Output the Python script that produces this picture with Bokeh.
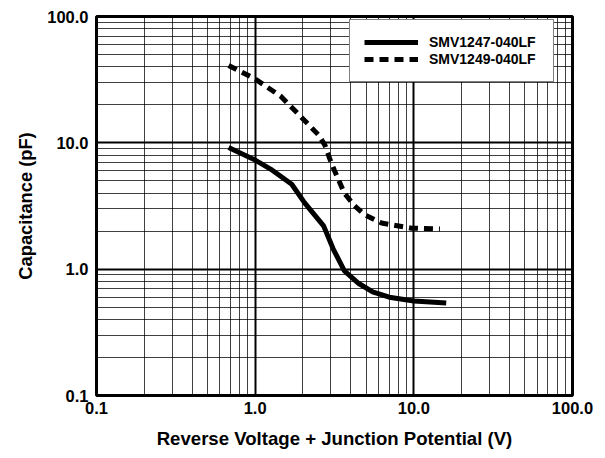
from bokeh.plotting import figure
from bokeh.models import Range1d, FixedTicker, Legend, LegendItem
from bokeh.embed import file_html
from bokeh.resources import INLINE

# ---- data ----
v_1247 = [0.68, 1.0, 1.25, 1.7, 2.05, 2.7, 3.1, 3.65, 4.5, 5.5, 7.0, 10.0, 16.0]
c_1247 = [9.2, 7.3, 6.2, 4.7, 3.35, 2.2, 1.45, 0.97, 0.77, 0.66, 0.6, 0.56, 0.54]

v_1249 = [0.68, 1.0, 1.46, 1.95, 2.5, 2.75, 2.95, 3.15, 3.65, 4.2, 4.9, 6.25, 9.7, 14.6]
c_1249 = [41.0, 32.0, 23.2, 16.0, 11.6, 9.6, 7.5, 6.1, 4.0, 3.2, 2.7, 2.32, 2.11, 2.08]

series_names = ["SMV1247-040LF", "SMV1249-040LF"]

x_ticks = [0.1, 1.0, 10.0, 100.0]
x_tick_labels = ["0.1", "1.0", "10.0", "100.0"]
y_ticks = [0.1, 1.0, 10.0, 100.0]
y_tick_labels = ["0.1", "1.0", "10.0", "100.0"]
minor_ticks = [m * d for d in (0.1, 1.0, 10.0) for m in range(2, 10)]

x_title = "Reverse Voltage + Junction Potential (V)"
y_title = "Capacitance (pF)"

FONT = "Liberation Sans"

p = figure(width=605, height=458, x_axis_type="log", y_axis_type="log",
           x_range=Range1d(0.1, 100), y_range=Range1d(0.1, 100),
           output_backend="svg", toolbar_location=None,
           min_border_left=96, min_border_right=33,
           min_border_top=16, min_border_bottom=63)

p.background_fill_color = "white"
p.border_fill_color = "white"
p.outline_line_color = "black"
p.outline_line_width = 3

xt = FixedTicker(ticks=x_ticks, minor_ticks=minor_ticks)
yt = FixedTicker(ticks=y_ticks, minor_ticks=minor_ticks)

for ax, t, labels, title in ((p.xaxis[0], xt, x_tick_labels, x_title),
                             (p.yaxis[0], yt, y_tick_labels, y_title)):
    ax.ticker = t
    ax.major_label_overrides = {k: l for k, l in zip(t.ticks, labels)}
    ax.axis_line_color = None
    ax.major_tick_line_color = None
    ax.minor_tick_line_color = None
    ax.major_tick_out = 0
    ax.major_tick_in = 0
    ax.minor_tick_out = 0
    ax.minor_tick_in = 0
    ax.major_label_text_font = FONT
    ax.major_label_text_font_style = "bold"
    ax.major_label_text_font_size = "16.5px"
    ax.major_label_text_color = "black"
    ax.axis_label = title
    ax.axis_label_text_font = FONT
    ax.axis_label_text_font_style = "bold"
    ax.axis_label_text_color = "black"

p.xaxis.axis_label_text_font_size = "18.6px"
p.yaxis.axis_label_text_font_size = "18.3px"
p.xaxis.major_label_standoff = 6
p.yaxis.major_label_standoff = 8
p.xaxis.axis_label_standoff = 11
p.yaxis.axis_label_standoff = 8

for g, t in ((p.xgrid[0], xt), (p.ygrid[0], yt)):
    g.ticker = t
    g.grid_line_color = "black"
    g.grid_line_width = 2
    g.minor_grid_line_color = "black"
    g.minor_grid_line_alpha = 0.75
    g.minor_grid_line_width = 1

r1 = p.line(v_1247, c_1247, line_color="black", line_width=5)
r2 = p.line(v_1249, c_1249, line_color="black", line_width=5, line_dash="9 6")

legend = Legend(items=[LegendItem(label=series_names[0], renderers=[r1]),
                       LegendItem(label=series_names[1], renderers=[r2])],
                location=(253, 313), margin=0, padding=14, spacing=1,
                glyph_width=54, glyph_height=16, label_height=16,
                label_width=110, label_standoff=11,
                label_text_font=FONT, label_text_font_style="bold",
                label_text_font_size="14px", label_text_color="black",
                border_line_color="black", border_line_width=1.5,
                background_fill_color="white", background_fill_alpha=1.0)
p.add_layout(legend)

open("out.html", "w").write(file_html(p, INLINE))
